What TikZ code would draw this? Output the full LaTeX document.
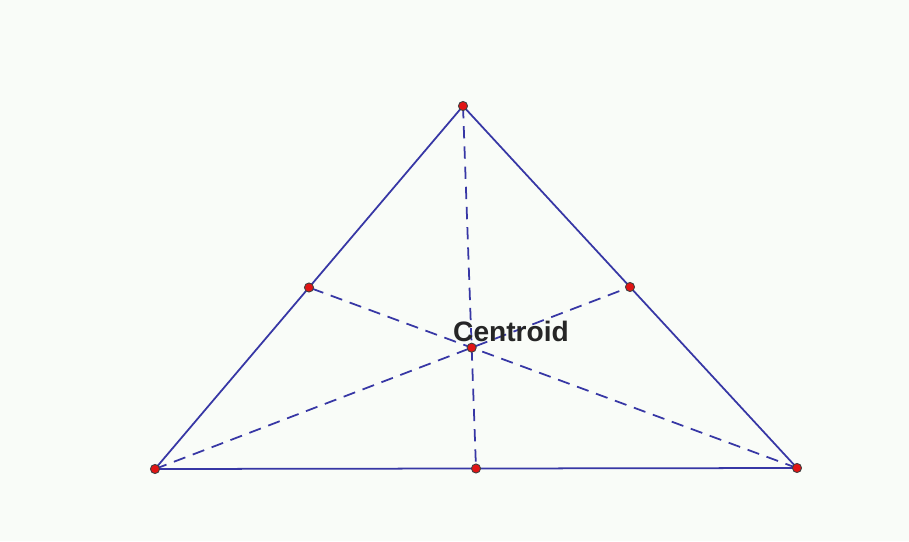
\documentclass[tikz,border=0pt]{standalone}
\usepackage{fontspec}
\setmainfont{Liberation Sans}
\usetikzlibrary{calc}
\definecolor{bgcol}{RGB}{249,252,248}
\definecolor{edgecol}{RGB}{55,55,165}
\definecolor{dotred}{RGB}{225,20,20}
\tikzset{
    side/.style={edgecol, line width=1pt},
    median/.style={edgecol, line width=1pt, dash pattern=on 7pt off 4.5pt},
    vdot/.style={circle, fill=dotred, draw=black!75, line width=0.5pt, inner sep=0pt, minimum size=5.2pt}
}
\begin{document}
\begin{tikzpicture}[x=0.02cm, y=-0.02cm]
    \fill[bgcol] (0,0) rectangle (909,541);
    \coordinate (A) at (463,106);
    \coordinate (B) at (155,469);
    \coordinate (C) at (797,468);
    \coordinate (mAB) at ($(A)!0.5!(B)$);
    \coordinate (mAC) at ($(A)!0.5!(C)$);
    \coordinate (mBC) at ($(B)!0.5!(C)$);
    \coordinate (G) at ($(A)!2/3!(mBC)$);
    \draw[median] (A) -- (mBC);
    \draw[median] (B) -- (mAC);
    \draw[median] (C) -- (mAB);
    \draw[side] (A) -- (B) -- (C) -- cycle;
    \foreach \p in {A,B,C,mAB,mAC,mBC,G}
        \node[vdot] at (\p) {};
    \node[font=\fontsize{16}{18}\selectfont\bfseries, text=black!85] (lbl) at (511,331) {Centroid};
\end{tikzpicture}
\end{document}
